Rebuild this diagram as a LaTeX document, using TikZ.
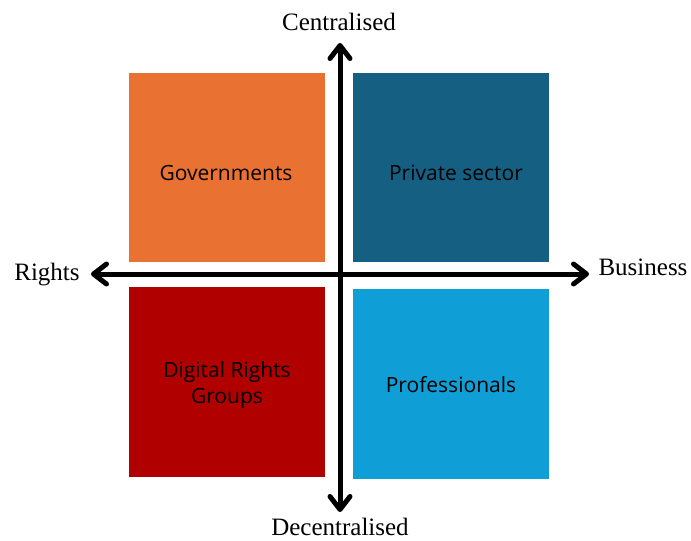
\documentclass[tikz,border=0pt]{standalone}
\usepackage{fontspec}
\setmainfont{Liberation Serif}
\newfontfamily\boxfont{Open Sans}
\usetikzlibrary{arrows.meta}
\definecolor{govorange}{HTML}{E97132}
\definecolor{privblue}{HTML}{156082}
\definecolor{rightsred}{HTML}{B00000}
\definecolor{problue}{HTML}{0F9ED5}
\tikzset{
  quad/.style={rectangle, inner sep=0pt, minimum width=196pt, anchor=north west},
  quadtext/.style={font=\boxfont\fontsize{21}{26}\selectfont, text=black, align=center, inner sep=0pt},
  axislabel/.style={font=\fontsize{25}{30}\selectfont, anchor=base, inner sep=0pt},
  axis/.style={line width=5pt, {Straight Barb[round, length=13pt, width=20pt]}-{Straight Barb[round, length=13pt, width=20pt]}},
}
\begin{document}
\begin{tikzpicture}[x=1pt, y=-1pt]
\useasboundingbox (0,0) rectangle (691,541);

% the four quadrants
\node[quad, fill=govorange, minimum height=189pt] (gov)  at (129,73)  {};
\node[quad, fill=privblue,  minimum height=189pt] (priv) at (353,73)  {};
\node[quad, fill=rightsred, minimum height=190pt] (dig)  at (129,287) {};
\node[quad, fill=problue,   minimum height=190pt] (pro)  at (353,289) {};

% quadrant captions
\node[quadtext, anchor=base] (govtext)  at (226,180) {Governments};
\node[quadtext, anchor=base] (privtext) at (456,180) {Private sector};
\node[quadtext, anchor=center] (digtext) at (227,385) {Digital Rights\\Groups};
\node[quadtext, anchor=base] (protext)  at (451,392) {Professionals};

% axes
\coordinate (top)    at (340,43);
\coordinate (bottom) at (340,512);
\coordinate (left)   at (91,274);
\coordinate (right)  at (589,274);
\draw[axis] (top) -- (bottom);
\draw[axis] (left) -- (right);

% axis captions
\node[axislabel] (central)   at (339,30)  {Centralised};
\node[axislabel] (decentral) at (340,535) {Decentralised};
\node[axislabel] (rights)    at (47,280)  {Rights};
\node[axislabel] (business)  at (643,275) {Business};
\end{tikzpicture}
\end{document}
